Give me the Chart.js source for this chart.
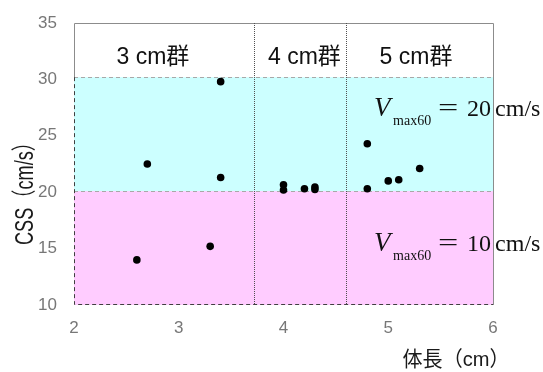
<!DOCTYPE html>
<html>
<head>
<meta charset="utf-8">
<script src="https://cdn.jsdelivr.net/npm/chart.js@4/dist/chart.umd.min.js"></script>
<style>
  html, body { margin: 0; padding: 0; background: #ffffff; }
  #wrap { width: 543px; height: 372px; }
</style>
</head>
<body>
<div id="wrap"><canvas id="c" width="543" height="372"></canvas></div>
<script>
// ---- data ----
const bodyLength = [2.6, 2.7, 3.3, 3.4, 3.4, 4.0, 4.0, 4.2, 4.3, 4.3, 4.8, 4.8, 5.0, 5.1, 5.3];
const cssValues  = [14.0, 22.5, 15.2, 29.8, 21.3, 20.65, 20.2, 20.3, 20.45, 20.25, 24.3, 20.3, 21.0, 21.1, 22.1];
const xTicks = [2, 3, 4, 5, 6];
const yTicks = [10, 15, 20, 25, 30, 35];
const groupLabels = ['3 cm群', '4 cm群', '5 cm群'];
const groupBoundaries = [3.72, 4.6];
const bandRanges = [[10, 20.1], [20.1, 30.2]];  // pink band, cyan band
const vmaxValues = [20, 10];                     // cm/s labels for cyan / pink band
const xTitle = '体長（cm）';
const yTitle = 'CSS（cm/s）';

const points = bodyLength.map((x, i) => ({ x: x, y: cssValues[i] }));

const SANS = '"Liberation Sans", Arial, "Noto Sans CJK JP", sans-serif';
const SERIF = '"Liberation Serif", "Times New Roman", serif';

const decorPlugin = {
  id: 'decor',
  beforeDatasetsDraw(chart) {
    const ctx = chart.ctx;
    const xs = chart.scales.x, ys = chart.scales.y;
    const L = xs.getPixelForValue(2), R = xs.getPixelForValue(6);
    const T = ys.getPixelForValue(35), B = ys.getPixelForValue(10);
    const bandColors = ['#ffccff', '#ccffff'];
    ctx.save();
    bandRanges.forEach((r, i) => {
      const y1 = ys.getPixelForValue(r[1]), y0 = ys.getPixelForValue(r[0]);
      ctx.fillStyle = bandColors[i];
      ctx.fillRect(L, y1, R - L, y0 - y1);
    });
    ctx.strokeStyle = '#8c8c8c';
    ctx.lineWidth = 1;
    ctx.beginPath();
    const yTopBand = ys.getPixelForValue(bandRanges[1][1]);
    ctx.moveTo(L + 0.5, yTopBand); ctx.lineTo(L + 0.5, T + 0.5);
    ctx.lineTo(R + 0.5, T + 0.5); ctx.lineTo(R + 0.5, B);
    ctx.stroke();
    ctx.setLineDash([4, 3]);
    ctx.strokeStyle = '#a8a8a8';
    bandRanges.forEach(r => {
      const y = Math.round(ys.getPixelForValue(r[1])) + 0.5;
      ctx.beginPath(); ctx.moveTo(L, y); ctx.lineTo(R, y); ctx.stroke();
    });
    ctx.strokeStyle = '#404040';
    ctx.beginPath();
    ctx.moveTo(L + 0.5, yTopBand); ctx.lineTo(L + 0.5, B - 0.5); ctx.lineTo(R, B - 0.5);
    ctx.stroke();
    ctx.setLineDash([1, 1]);
    ctx.strokeStyle = '#505050';
    groupBoundaries.forEach(v => {
      const x = Math.round(xs.getPixelForValue(v)) + 0.5;
      ctx.beginPath(); ctx.moveTo(x, T); ctx.lineTo(x, B); ctx.stroke();
    });
    ctx.restore();
  },
  afterDraw(chart) {
    const ctx = chart.ctx;
    const xs = chart.scales.x, ys = chart.scales.y;
    ctx.save();
    ctx.fillStyle = '#111111';
    ctx.font = '23px ' + SANS;
    ctx.textAlign = 'center';
    ctx.textBaseline = 'alphabetic';
    const gx = [2.753, 4.2, 5.265];
    groupLabels.forEach((t, i) => {
      ctx.fillText(t, xs.getPixelForValue(gx[i]), ys.getPixelForValue(31.37));
    });
    const ax = xs.getPixelForValue(4.865);
    const ay = [26.76, 14.8];
    vmaxValues.forEach((v, i) => {
      const by = ys.getPixelForValue(ay[i]);
      ctx.fillStyle = '#111111';
      ctx.textAlign = 'left';
      ctx.font = 'italic 27px ' + SERIF;
      ctx.fillText('V', ax, by);
      ctx.font = '14px ' + SERIF;
      ctx.fillText('max60', ax + 19, by + 9);
      ctx.save();
      ctx.translate(ax + 64, by - 1);
      ctx.scale(1.5, 1);
      ctx.font = '24px ' + SERIF;
      ctx.fillText('=', 0, 0);
      ctx.restore();
      ctx.font = '24px ' + SERIF;
      ctx.fillText(String(v), ax + 93, by);
      ctx.fillText('cm/s', ax + 121, by);
    });
    ctx.fillStyle = '#1a1a1a';
    ctx.font = '25px ' + SANS;
    ctx.textAlign = 'center';
    const yw = ctx.measureText(yTitle).width;
    ctx.save();
    ctx.translate(33, 189);
    ctx.rotate(-Math.PI / 2);
    ctx.scale(112 / yw, 1);
    ctx.fillText(yTitle, 0, 0);
    ctx.restore();
    ctx.font = '21px ' + SANS;
    const xw = ctx.measureText(xTitle).width;
    ctx.save();
    ctx.translate(456, 366);
    ctx.scale(107 / xw, 1);
    ctx.fillText(xTitle, 0, 0);
    ctx.restore();
    ctx.restore();
  }
};

new Chart(document.getElementById('c'), {
  type: 'scatter',
  data: {
    datasets: [{
      data: points,
      backgroundColor: '#000000',
      borderColor: '#000000',
      pointRadius: 3.8,
      pointHoverRadius: 3.8,
      borderWidth: 0
    }]
  },
  options: {
    responsive: false,
    animation: false,
    devicePixelRatio: 1,
    layout: { padding: { top: 23, right: 50, left: 0, bottom: 0 } },
    plugins: { legend: { display: false }, tooltip: { enabled: false } },
    scales: {
      x: {
        type: 'linear',
        min: 2, max: 6,
        afterBuildTicks(s) { s.ticks = xTicks.map(v => ({ value: v })); },
        afterFit(s) { s.height = 67; s.paddingLeft = 0; s.paddingRight = 0; },
        grid: { display: false, drawTicks: false },
        border: { display: false },
        ticks: { color: '#777777', font: { size: 17, family: SANS }, padding: 13 }
      },
      y: {
        type: 'linear',
        min: 10, max: 35,
        afterBuildTicks(s) { s.ticks = yTicks.map(v => ({ value: v })); },
        afterFit(s) { s.width = 74; s.paddingTop = 0; s.paddingBottom = 0; },
        grid: { display: false, drawTicks: false },
        border: { display: false },
        ticks: { color: '#777777', font: { size: 17, family: SANS }, padding: 17 }
      }
    }
  },
  plugins: [decorPlugin]
});
</script>
</body>
</html>
